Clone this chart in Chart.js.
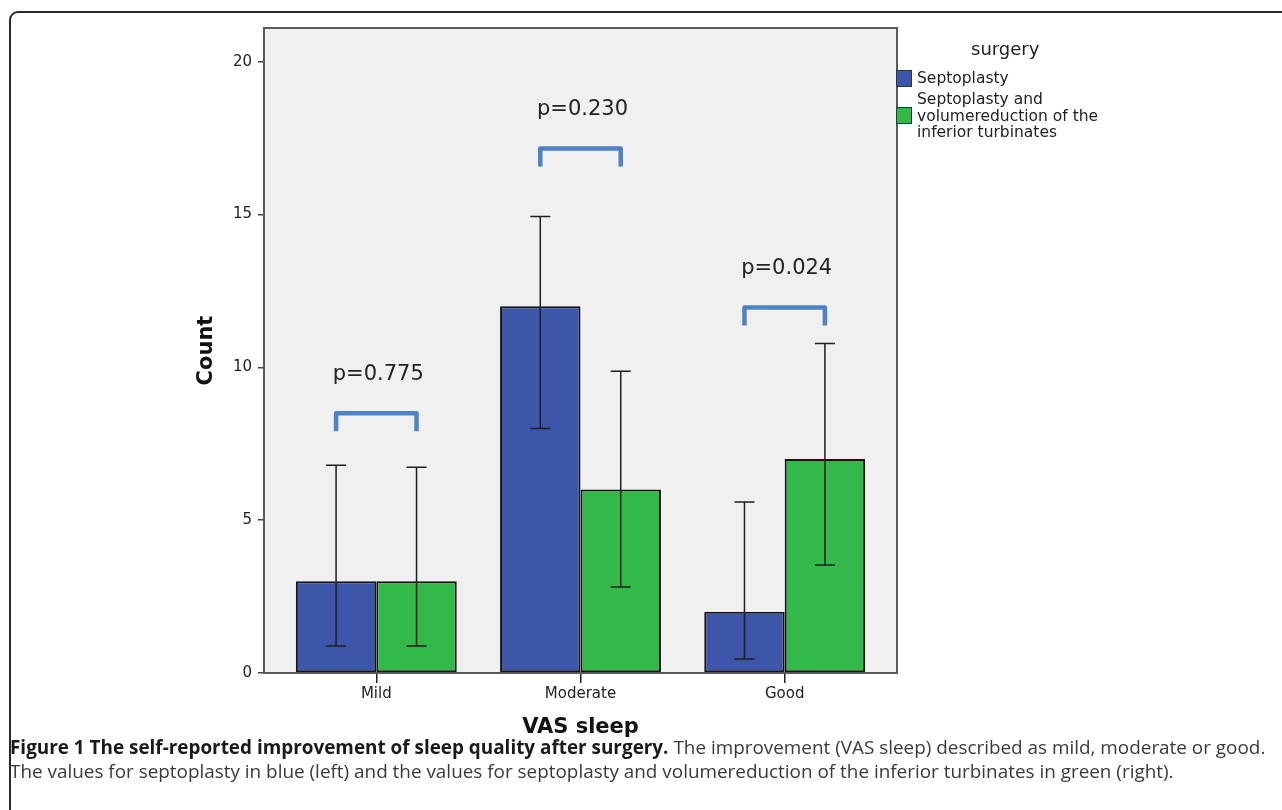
<!DOCTYPE html>
<html>
<head>
<meta charset="utf-8">
<title>VAS sleep</title>
<script src="https://cdn.jsdelivr.net/npm/chart.js@4.4.1/dist/chart.umd.min.js"></script>
<style>
  body { margin: 0; background: #fff; }
  #wrap { position: relative; width: 1282px; height: 810px; overflow: hidden; }
  #frame {
    position: absolute; left: 9px; top: 11px; width: 1300px; height: 840px;
    border: 2px solid #2a2a2a; border-radius: 9px;
  }
  #chart { position: absolute; left: 0; top: 0; }
  #legend-title {
    position: absolute; left: 971px; top: 38px;
    font: 18px 'DejaVu Sans', sans-serif; color: #222;
  }
  .leg-item { position: absolute; left: 896px; font: 15.5px/16.5px 'DejaVu Sans', sans-serif; color: #222; }
  .leg-box { position: absolute; left: 0; width: 14px; height: 15px; border: 1px solid #333; }
  .leg-text { position: absolute; left: 21px; white-space: pre; }
  #caption {
    position: absolute; left: 10px; top: 735px;
    font: 18.9px/24px 'Open Sans', sans-serif; color: #3a3a3a; white-space: nowrap;
  }
  #caption b { color: #1a1a1a; }
</style>
</head>
<body>
<div id="wrap">
  <div id="frame"></div>
  <canvas id="chart" width="1282" height="810"></canvas>
  <div id="legend-title">surgery</div>
  <div id="legend"></div>
  <div id="caption">
    <b>Figure 1 The self-reported improvement of sleep quality after surgery.</b> The improvement (VAS sleep) described as mild, moderate or good.<br>
    The values for septoplasty in blue (left) and the values for septoplasty and volumereduction of the inferior turbinates in green (right).
  </div>
</div>
<script>
// datos
const categories   = ['Mild', 'Moderate', 'Good'];
const seriesLabels = ['Septoplasty', 'Septoplasty and\nvolumereduction of the\ninferior turbinates'];
const septoCounts  = [3, 12, 2];
const comboCounts  = [3, 6, 7];
const septoLow     = [0.88, 8.0, 0.46];
const septoHigh    = [6.8, 14.93, 5.59];
const comboLow     = [0.88, 2.81, 3.53];
const comboHigh    = [6.73, 9.87, 10.78];
const pLabels      = ['p=0.775', 'p=0.230', 'p=0.024'];
const bracketLevel = [8.5, 17.16, 11.96];
const yTicks       = [0, 5, 10, 15, 20];

const COLORS = ['#3d56a9', '#33b94a'];
const errLow  = [septoLow, comboLow];
const errHigh = [septoHigh, comboHigh];

// leyenda en HTML
const legendEl = document.getElementById('legend');
const legTops  = [70, 91];
const boxTops  = [0, 16];
legendEl.innerHTML = seriesLabels.map((lab, i) => `
  <div class="leg-item" style="top:${legTops[i]}px">
    <div class="leg-box" style="top:${boxTops[i]}px;background:${COLORS[i]}"></div>
    <div class="leg-text">${lab}</div>
  </div>`).join('');

// fondo gris y marco del área de trazado
const plotBox = {
  id: 'plotBox',
  beforeDatasetsDraw(chart) {
    const { ctx, chartArea: a } = chart;
    ctx.save();
    ctx.fillStyle = '#f0f0f0';
    ctx.fillRect(a.left, a.top, a.right - a.left, a.bottom - a.top);
    ctx.strokeStyle = '#5a5a5a';
    ctx.lineWidth = 2;
    ctx.strokeRect(a.left, a.top, a.right - a.left, a.bottom - a.top);
    ctx.restore();
  }
};

// barras de error y corchetes con p
const extras = {
  id: 'extras',
  afterDatasetsDraw(chart) {
    const { ctx } = chart;
    const y = chart.scales.y;
    ctx.save();
    ctx.strokeStyle = '#1e1e1e';
    ctx.lineWidth = 1.5;
    [0, 1].forEach(d => {
      chart.getDatasetMeta(d).data.forEach((bar, j) => {
        const yl = y.getPixelForValue(errLow[d][j]);
        const yh = y.getPixelForValue(errHigh[d][j]);
        ctx.beginPath();
        ctx.moveTo(bar.x, yl); ctx.lineTo(bar.x, yh);
        ctx.moveTo(bar.x - 10, yl); ctx.lineTo(bar.x + 10, yl);
        ctx.moveTo(bar.x - 10, yh); ctx.lineTo(bar.x + 10, yh);
        ctx.stroke();
      });
    });

    const m0 = chart.getDatasetMeta(0).data;
    const m1 = chart.getDatasetMeta(1).data;
    ctx.strokeStyle = '#4f82c5';
    ctx.lineWidth = 4.5;
    ctx.lineJoin = 'round';
    ctx.fillStyle = '#222';
    ctx.font = '21px "DejaVu Sans"';
    ctx.textAlign = 'center';
    ctx.textBaseline = 'middle';
    categories.forEach((c, j) => {
      const x1 = m0[j].x, x2 = m1[j].x;
      const yt = y.getPixelForValue(bracketLevel[j]);
      ctx.beginPath();
      ctx.moveTo(x1, yt + 18); ctx.lineTo(x1, yt); ctx.lineTo(x2, yt); ctx.lineTo(x2, yt + 18);
      ctx.stroke();
      ctx.fillText(pLabels[j], (x1 + x2) / 2 + 2, yt - 39);
    });
    ctx.restore();
  }
};

const mkData = arr => arr.map((v, i) => ({ x: i, y: v }));

new Chart(document.getElementById('chart'), {
  type: 'bar',
  data: {
    datasets: [
      { label: seriesLabels[0], data: mkData(septoCounts), backgroundColor: COLORS[0] },
      { label: seriesLabels[1], data: mkData(comboCounts), backgroundColor: COLORS[1] }
    ]
  },
  options: {
    responsive: false,
    animation: false,
    layout: { padding: { left: 190, right: 385, top: 28, bottom: 65 } },
    datasets: {
      bar: {
        borderColor: '#151515', borderWidth: 2, borderSkipped: false,
        categoryPercentage: 0.788, barPercentage: 1.0
      }
    },
    plugins: { legend: { display: false }, tooltip: { enabled: false } },
    scales: {
      x: {
        type: 'linear', min: -0.55, max: 2.55, offset: false,
        afterBuildTicks: s => { s.ticks = categories.map((c, i) => ({ value: i })); },
        afterFit: s => { s.height = 72; },
        grid: { drawOnChartArea: false, offset: false, tickLength: 10, color: '#222', lineWidth: 1.5 },
        border: { display: false },
        ticks: {
          callback: v => categories[v], color: '#222', padding: 2,
          font: { family: 'DejaVu Sans', size: 15 }, maxRotation: 0
        },
        title: {
          display: true, text: 'VAS sleep', color: '#111',
          font: { family: 'DejaVu Sans', size: 21, weight: 'bold' }, padding: { top: 3, bottom: 5 }
        }
      },
      y: {
        min: 0, max: 21.1,
        afterBuildTicks: s => { s.ticks = yTicks.map(v => ({ value: v })); },
        afterFit: s => { s.width = 74; },
        grid: { drawOnChartArea: false, tickLength: 6, color: '#444', lineWidth: 1.5 },
        border: { display: true, color: '#555', width: 2 },
        ticks: { color: '#222', padding: 6, font: { family: 'DejaVu Sans', size: 15 } },
        title: {
          display: true, text: 'Count', color: '#111',
          font: { family: 'DejaVu Sans', size: 21, weight: 'bold' }, padding: { top: 4, bottom: 4 }
        }
      }
    }
  },
  plugins: [plotBox, extras]
});
</script>
</body>
</html>
